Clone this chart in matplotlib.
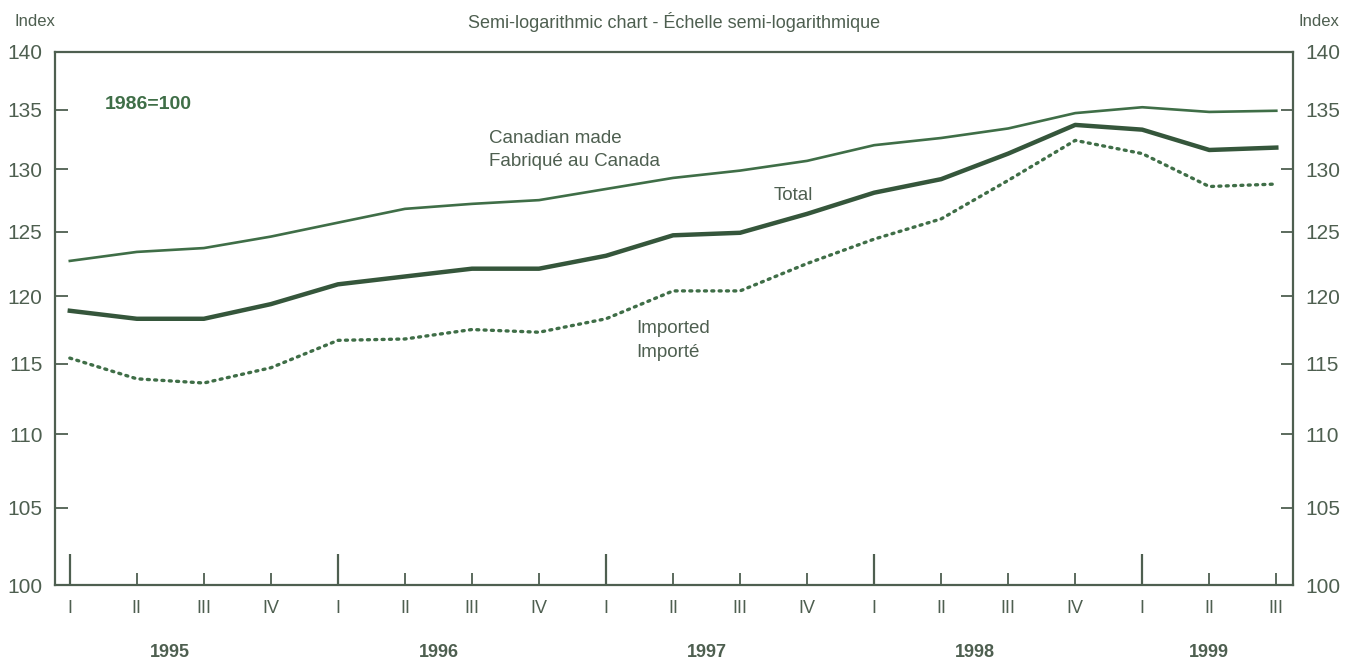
import numpy as np
import matplotlib
matplotlib.use("Agg")
import matplotlib.pyplot as plt
from matplotlib.ticker import NullLocator

plt.rcParams['font.family'] = ['Liberation Sans Narrow', 'Liberation Sans', 'DejaVu Sans']

# quarters 1995 I .. 1999 III
quarters = ['I', 'II', 'III', 'IV'] * 4 + ['I', 'II', 'III']
years = ['1995', '1996', '1997', '1998', '1999']
canadian = [122.7, 123.4, 123.7, 124.6, 125.7, 126.8, 127.2, 127.5, 128.4, 129.3,
            129.9, 130.7, 132.0, 132.6, 133.4, 134.7, 135.2, 134.8, 134.9]
total = [118.9, 118.3, 118.3, 119.4, 120.9, 121.5, 122.1, 122.1, 123.1, 124.7,
         124.9, 126.4, 128.1, 129.2, 131.3, 133.7, 133.3, 131.6, 131.8]
imported = [115.4, 113.9, 113.6, 114.7, 116.7, 116.8, 117.5, 117.3, 118.3, 120.4,
            120.4, 122.5, 124.4, 126.0, 129.1, 132.4, 131.3, 128.6, 128.8]
yticks = [100, 105, 110, 115, 120, 125, 130, 135, 140]

ink = '#4e5f50'
green = '#3f6e47'
dark = '#35563b'

x = np.arange(len(quarters))

fig = plt.figure(figsize=(13.53, 6.62), dpi=100)
ax = fig.add_axes([0.0407, 0.1163, 0.915, 0.8052])

ax.plot(x, canadian, color=green, lw=1.9)
ax.plot(x, total, color=dark, lw=3.2)
ax.plot(x, imported, color=green, lw=2.4, linestyle=(0, (0.6, 1.6)), dash_capstyle='round')

ax.set_yscale('log')
ax.set_ylim(100, 140)
ax.set_xlim(-0.22, 18.25)
ax.set_yticks(yticks)
ax.set_yticklabels([str(v) for v in yticks])
ax.yaxis.set_minor_locator(NullLocator())
ax.tick_params(axis='y', which='major', direction='in', length=9, width=1.3,
               color=ink, labelcolor=ink, labelsize=15, pad=9,
               left=True, right=True, labelleft=True, labelright=True)

# year ticks (quarter I) long, other quarters short
major = [i for i, q in enumerate(quarters) if q == 'I']
minor = [i for i, q in enumerate(quarters) if q != 'I']
ax.set_xticks(major)
ax.set_xticklabels([quarters[i] for i in major])
ax.set_xticks(minor, minor=True)
ax.set_xticklabels([quarters[i] for i in minor], minor=True)
ax.tick_params(axis='x', which='major', direction='in', length=22, width=1.6,
               color=ink, labelcolor=ink, labelsize=13, pad=11)
ax.tick_params(axis='x', which='minor', direction='in', length=9, width=1.3,
               color=ink, labelcolor=ink, labelsize=13, pad=11)

for s in ax.spines.values():
    s.set_color(ink)
    s.set_linewidth(1.6)

# year labels centred under each year's quarters
for k, yr in enumerate(years):
    idx = [i for i in range(len(quarters)) if i // 4 == k]
    xm = (idx[0] + idx[-1]) / 2 if len(idx) == 4 else idx[len(idx) // 2]
    ax.text(xm, -0.126, yr, transform=ax.get_xaxis_transform(), ha='center', va='center',
            fontsize=13, fontweight='bold', color=ink)

fig.text(0.011, 0.967, 'Index', fontsize=12, color=ink, ha='left', va='center')
fig.text(0.99, 0.967, 'Index', fontsize=12, color=ink, ha='right', va='center')
fig.text(0.498, 0.967, 'Semi-logarithmic chart - Échelle semi-logarithmique',
         fontsize=13, color=ink, ha='center', va='center')

ax.text(0.52, 135.4, '1986=100', fontsize=14, fontweight='bold', color=green, va='center')
ax.text(6.25, 131.6, 'Canadian made\nFabriqué au Canada', fontsize=13.5, color=ink,
        va='center', linespacing=1.5)
ax.text(10.5, 127.9, 'Total', fontsize=13.5, color=ink, va='center')
ax.text(8.45, 116.7, 'Imported\nImporté', fontsize=13.5, color=ink, va='center', linespacing=1.5)

fig.savefig('out.png', dpi=100)
